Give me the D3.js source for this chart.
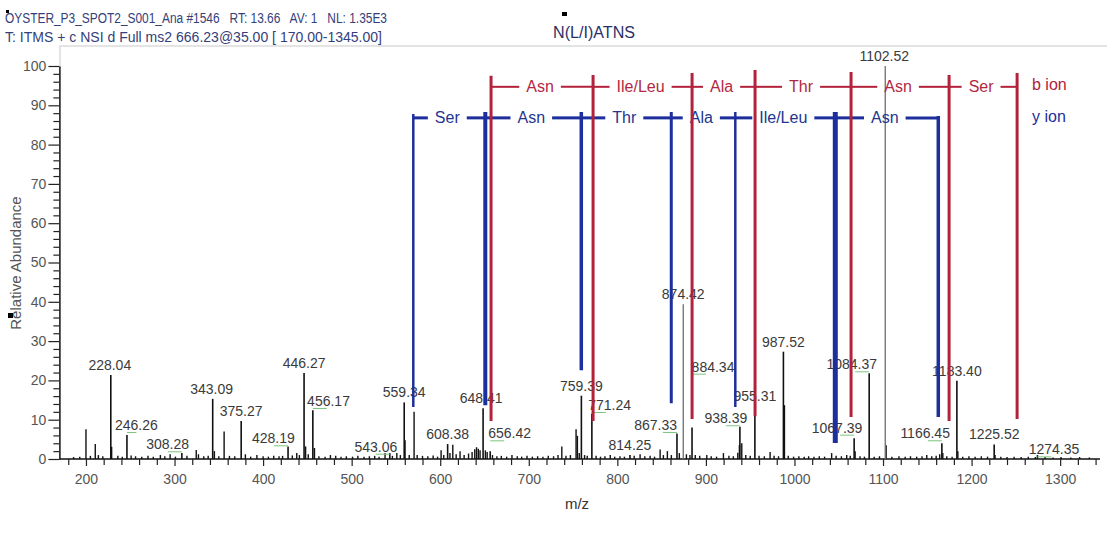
<!DOCTYPE html>
<html>
<head>
<meta charset="utf-8">
<script src="https://cdn.jsdelivr.net/npm/d3@7"></script>
<style>
  body { margin: 0; background: #fff; }
  svg { display: block; }
  text { font-family: "Liberation Sans", Arial, sans-serif; }
</style>
</head>
<body>
<svg id="chart" width="1107" height="535"></svg>
<script>
// ---- Spectrum data (m/z, relative abundance %) ----
const labeledMz = [228.04, 246.26, 308.28, 343.09, 375.27, 428.19, 446.27, 456.17, 543.06, 559.34,
  608.38, 648.41, 656.42, 759.39, 771.24, 814.25, 867.33, 874.42, 884.34, 938.39, 955.31, 987.52,
  1067.39, 1084.37, 1102.52, 1166.45, 1183.40, 1225.52, 1274.35];
const labeledAbundance = [21.4, 6.1, 1.5, 15.3, 9.7, 3.2, 21.9, 12.4, 1.5, 14.4,
  3.8, 12.9, 2.0, 16.1, 11.5, 1.0, 6.5, 39.4, 8.0, 8.2, 13.5, 27.3,
  5.3, 21.8, 100, 4.0, 19.9, 3.7, 1.0];

const minorMz = [186, 193, 200, 205, 210.5, 214, 219, 229.0, 236, 241, 251, 256, 263, 270, 276, 284, 289,
  295, 301, 314, 324.5, 327, 333, 338, 345, 350, 356, 362, 368, 380, 386, 393, 400, 406, 412, 418, 422,
  433, 438, 441, 448, 451, 458, 463, 470, 476, 482, 488, 494, 501, 507, 514, 520, 526, 531, 537.7, 546,
  551, 555, 560.3, 565, 570.5, 574, 580, 586, 592, 597, 601, 604, 611, 614.2, 618, 622.4, 627, 632, 636,
  639, 641, 643, 645, 651, 653, 659, 664, 669, 675, 681, 687, 692, 698, 704, 710, 716, 722, 728, 733,
  737.3, 742, 747, 753.4, 754.9, 757, 763, 766, 776, 781, 786, 792, 797, 803, 808, 819, 825.7, 831, 837,
  842, 848.3, 852, 856.5, 861, 870, 878, 882, 888, 893, 901, 906, 912, 919.8, 926, 931, 936, 937.8,
  940.5, 945, 950, 960, 966, 972.5, 977, 982, 988.7, 993, 999, 1005, 1011, 1016, 1022, 1028, 1034, 1042,
  1047, 1053, 1059, 1063, 1068.5, 1074, 1079, 1090, 1096, 1103.5, 1110, 1118, 1125, 1131, 1138, 1144,
  1149.4, 1155, 1160, 1164, 1167.5, 1172, 1178, 1184.5, 1190, 1197, 1204, 1211, 1218, 1226.5, 1233,
  1240, 1248, 1256, 1264, 1272, 1283, 1292, 1301, 1312, 1322, 1333];
const minorAbundance = [0.5, 0.6, 7.6, 0.8, 3.8, 1.0, 0.7, 3.1, 0.8, 0.6, 0.9, 0.7, 0.6, 0.8, 0.6, 1.0, 0.7,
  1.2, 0.6, 0.8, 2.3, 1.2, 0.7, 0.8, 2.0, 0.7, 7.0, 0.8, 0.7, 1.2, 0.6, 1.0, 0.7, 0.6, 0.8, 0.7, 0.8,
  0.9, 1.5, 1.0, 3.2, 1.2, 2.8, 0.7, 0.6, 1.0, 0.8, 0.6, 0.7, 0.6, 0.8, 0.6, 0.7, 0.8, 0.6, 1.5, 0.8,
  1.5, 1.0, 4.8, 1.0, 12.0, 1.0, 0.8, 0.7, 0.9, 0.6, 2.2, 1.0, 1.5, 3.6, 1.2, 2.0, 1.0, 1.4, 1.8,
  2.5, 3.0, 2.6, 2.2, 2.2, 1.8, 1.0, 0.7, 0.8, 0.6, 1.0, 0.7, 0.6, 0.8, 0.6, 0.7, 0.6, 0.8, 0.7, 1.0,
  3.2, 0.8, 1.0, 7.6, 5.9, 1.5, 1.0, 0.8, 0.8, 0.6, 0.7, 1.0, 0.6, 0.7, 0.6, 0.8, 1.2, 0.7, 0.8,
  0.6, 2.4, 1.0, 2.0, 1.0, 1.5, 1.2, 1.0, 1.0, 0.8, 1.0, 0.7, 0.6, 1.5, 0.8, 0.7, 1.6, 3.5,
  4.0, 1.0, 0.8, 0.8, 0.7, 1.8, 0.8, 0.7, 13.7, 0.8, 0.6, 0.7, 0.6, 0.7, 0.6, 0.7, 0.6, 1.5,
  0.8, 0.7, 1.0, 0.8, 2.0, 0.7, 0.6, 0.6, 0.7, 3.5, 0.6, 0.7, 0.6, 0.7, 0.6, 0.7,
  1.0, 0.7, 0.8, 1.2, 1.5, 0.7, 0.6, 2.0, 0.6, 0.7, 0.6, 0.7, 0.6, 1.0, 0.6,
  0.5, 0.6, 0.5, 0.6, 0.5, 0.5, 0.4, 0.5, 0.4, 0.5, 0.4];

const xTickLabels = [200, 300, 400, 500, 600, 700, 800, 900, 1000, 1100, 1200, 1300];
const yTickLabels = [0, 10, 20, 30, 40, 50, 60, 70, 80, 90, 100];

// ---- Fragment ion ladders ----
const bIonMz = [657.4, 772.6, 884.4, 955.5, 1063.9, 1174.6, 1251.4];
const bIonTop = [97.5, 97.7, 98.2, 99.0, 98.5, 97.7, 98.2];
const bIonBottom = [9.7, 9.7, 10.2, 10.9, 10.7, 9.7, 10.2];
const bResidues = ["Asn", "Ile/Leu", "Ala", "Thr", "Asn", "Ser"];

const yIonMz = [569.6, 650.9, 759.3, 860.9, 933.2, 1046.1, 1162.4];
const yIonTop = [87.8, 88.3, 88.3, 88.3, 88.3, 88.3, 87.3];
const yIonBottom = [13.2, 13.7, 22.6, 14.2, 13.2, 4.1, 10.7];
const yResidues = ["Ser", "Asn", "Thr", "Ala", "Ile/Leu", "Asn"];

const headerLine1 = "OYSTER_P3_SPOT2_S001_Ana #1546   RT: 13.66   AV: 1   NL: 1.35E3";
const headerLine2 = "T: ITMS + c NSI d Full ms2 666.23@35.00 [ 170.00-1345.00]";
const peptide = "N(L/I)ATNS";

// ---- Layout ----
const svg = d3.select("#chart");
const x = d3.scaleLinear().domain([170, 1345]).range([59.4, 1100]);
const y = d3.scaleLinear().domain([0, 100]).range([459, 66]);

const RED = "#b2223a", BLUE = "#1d2f9c";
const B_ROW = 94.7, Y_ROW = 86.8;
const yIonStroke = [2.5, 4, 3.5, 3, 2.5, 5, 3.5];

// label displacements (px) for labels moved off their peaks
const labelNudge = {
  "228.04": [-1, 0], "246.26": [9.5, 0], "308.28": [-14.3, 1.2], "343.09": [-1, 0],
  "428.19": [-14.7, 1.9], "456.17": [15.7, 0.7], "543.06": [-13.9, 3.6], "648.41": [-2, 0],
  "656.42": [19.4, -7.8], "771.24": [17.7, 1.2], "867.33": [-21.4, 1.5], "884.34": [21, -50.9],
  "938.39": [-14, 1.5], "1067.39": [-17.1, -0.5], "1084.37": [-17.4, 1], "1102.52": [-1, 0],
  "1166.45": [-16.7, 0], "1274.35": [16.5, 4.3]
};
const greyPeaks = new Set(["874.42", "1102.52"]);

svg.append("rect").attr("width", 1107).attr("height", 535).attr("fill", "#fff");

// plot frame remnant
svg.append("path").attr("d", "M60,66V46H1107").attr("fill", "none").attr("stroke", "#dcdcdc").attr("stroke-width", 1.5);

// header
svg.append("rect").attr("x", 6).attr("y", 10).attr("width", 3).attr("height", 3).attr("fill", "#000");
svg.append("text").attr("x", 5).attr("y", 23).attr("font-size", 14).attr("fill", "#34407a")
  .attr("textLength", 382).attr("lengthAdjust", "spacingAndGlyphs").style("white-space", "pre").text(headerLine1);
svg.append("text").attr("x", 5).attr("y", 42).attr("font-size", 14).attr("fill", "#34407a")
  .attr("textLength", 377).attr("lengthAdjust", "spacingAndGlyphs").text(headerLine2);
svg.append("rect").attr("x", 562).attr("y", 12).attr("width", 5).attr("height", 4).attr("fill", "#000");
svg.append("text").attr("x", 553).attr("y", 38).attr("font-size", 16).attr("fill", "#2b2f66")
  .attr("textLength", 82).attr("lengthAdjust", "spacingAndGlyphs").text(peptide);

// axes
const xAxis = d3.axisBottom(x).tickValues(d3.range(180, 1345, 20))
  .tickFormat(d => xTickLabels.includes(d) ? d : "").tickSizeOuter(0);
const gx = svg.append("g").attr("transform", `translate(0,${y(0)})`).call(xAxis);
gx.select(".domain").attr("stroke", "#111").attr("stroke-width", 1.5).attr("d", `M${x(170)},0H${x(1345)}`);
gx.selectAll(".tick line").attr("stroke", "#222").attr("stroke-width", 1.2)
  .attr("y2", d => xTickLabels.includes(d) ? 7 : 6);
gx.selectAll(".tick text").attr("font-size", 14).attr("fill", "#555").attr("dy", 0).attr("y", 25)
  .attr("font-family", "Liberation Sans, Arial, sans-serif");

const yAxis = d3.axisLeft(y).tickValues(d3.range(0, 101, 2))
  .tickFormat(d => yTickLabels.includes(d) ? d : "").tickSizeOuter(0);
const gy = svg.append("g").attr("transform", `translate(${x(170)},0)`).call(yAxis);
gy.select(".domain").attr("stroke", "#111").attr("stroke-width", 1.5);
gy.selectAll(".tick line").attr("stroke", "#222").attr("stroke-width", 1.2)
  .attr("x2", d => yTickLabels.includes(d) ? -11 : -6);
gy.selectAll(".tick text").attr("font-size", 14).attr("fill", "#555").attr("x", -13)
  .attr("font-family", "Liberation Sans, Arial, sans-serif");

// axis titles
svg.append("text").attr("transform", "translate(21,263) rotate(-90)").attr("text-anchor", "middle")
  .attr("font-size", 15).attr("fill", "#555").text("Relative Abundance");
svg.append("rect").attr("x", 8).attr("y", 313).attr("width", 5).attr("height", 5).attr("fill", "#000");
svg.append("text").attr("x", 577).attr("y", 509).attr("text-anchor", "middle")
  .attr("font-size", 15).attr("fill", "#333").text("m/z");

// spectrum sticks
const minor = minorMz.map((m, i) => ({ mz: m, v: minorAbundance[i] }));
svg.append("g").selectAll("line").data(minor).join("line")
  .attr("x1", d => x(d.mz)).attr("x2", d => x(d.mz))
  .attr("y1", y(0)).attr("y2", d => y(d.v))
  .attr("stroke", "#111").attr("stroke-width", 1.4);

const peaks = labeledMz.map((m, i) => ({ mz: m, v: labeledAbundance[i], label: m.toFixed(2) }));
svg.append("g").selectAll("line").data(peaks).join("line")
  .attr("x1", d => x(d.mz)).attr("x2", d => x(d.mz))
  .attr("y1", y(0)).attr("y2", d => y(d.v))
  .attr("stroke", d => greyPeaks.has(d.label) ? "#6e6e6e" : "#111")
  .attr("stroke-width", d => greyPeaks.has(d.label) ? 1.3 : 1.6);

// peak labels with green leaders for displaced ones
const lbl = svg.append("g");
peaks.forEach(d => {
  const [dx, dy] = labelNudge[d.label] || [0, 0];
  const px = x(d.mz), base = y(d.v) - 5 + dy;
  if (Math.abs(dx) > 5) {
    const len = Math.sign(dx) * Math.min(Math.abs(dx), 14);
    lbl.append("line").attr("x1", px).attr("x2", px + len)
      .attr("y1", base + 2.5).attr("y2", base + 2.5)
      .attr("stroke", "#7cc47c").attr("stroke-width", 1);
  }
  lbl.append("text").attr("x", px + dx).attr("y", base).attr("text-anchor", "middle")
    .attr("font-size", 14).attr("fill", "#3a3a3a").text(d.label);
});

// ion ladders
function ladder(mzs, tops, bottoms, residues, rowVal, color, hWidth, vWidths, textColor) {
  const g = svg.append("g");
  const rowY = y(rowVal);
  const xs = mzs.map(m => x(m));
  residues.forEach((r, i) => {
    const cx = (xs[i] + xs[i + 1]) / 2 - 2;
    const t = g.append("text").attr("x", cx).attr("y", rowY + 5.5).attr("text-anchor", "middle")
      .attr("font-size", 16).attr("fill", textColor).text(r);
    const w = t.node().getComputedTextLength();
    const pad = 7;
    g.append("line").attr("x1", xs[i]).attr("x2", cx - w / 2 - pad).attr("y1", rowY).attr("y2", rowY)
      .attr("stroke", color).attr("stroke-width", hWidth);
    g.append("line").attr("x1", cx + w / 2 + pad).attr("x2", xs[i + 1]).attr("y1", rowY).attr("y2", rowY)
      .attr("stroke", color).attr("stroke-width", hWidth);
  });
  g.selectAll("line.v").data(mzs).join("line").attr("class", "v")
    .attr("x1", d => x(d)).attr("x2", d => x(d))
    .attr("y1", (d, i) => y(tops[i])).attr("y2", (d, i) => y(bottoms[i]))
    .attr("stroke", color).attr("stroke-width", (d, i) => vWidths[i]);
}
ladder(yIonMz, yIonTop, yIonBottom, yResidues, Y_ROW, BLUE, 3, yIonStroke, "#22358f");
ladder(bIonMz, bIonTop, bIonBottom, bResidues, B_ROW, RED, 2, bIonMz.map(() => 3), "#b4283e");

svg.append("text").attr("x", 1032).attr("y", y(B_ROW) + 3).attr("font-size", 16).attr("fill", RED).text("b ion");
svg.append("text").attr("x", 1032).attr("y", y(Y_ROW) + 4).attr("font-size", 16).attr("fill", BLUE).text("y ion");
</script>
</body>
</html>
